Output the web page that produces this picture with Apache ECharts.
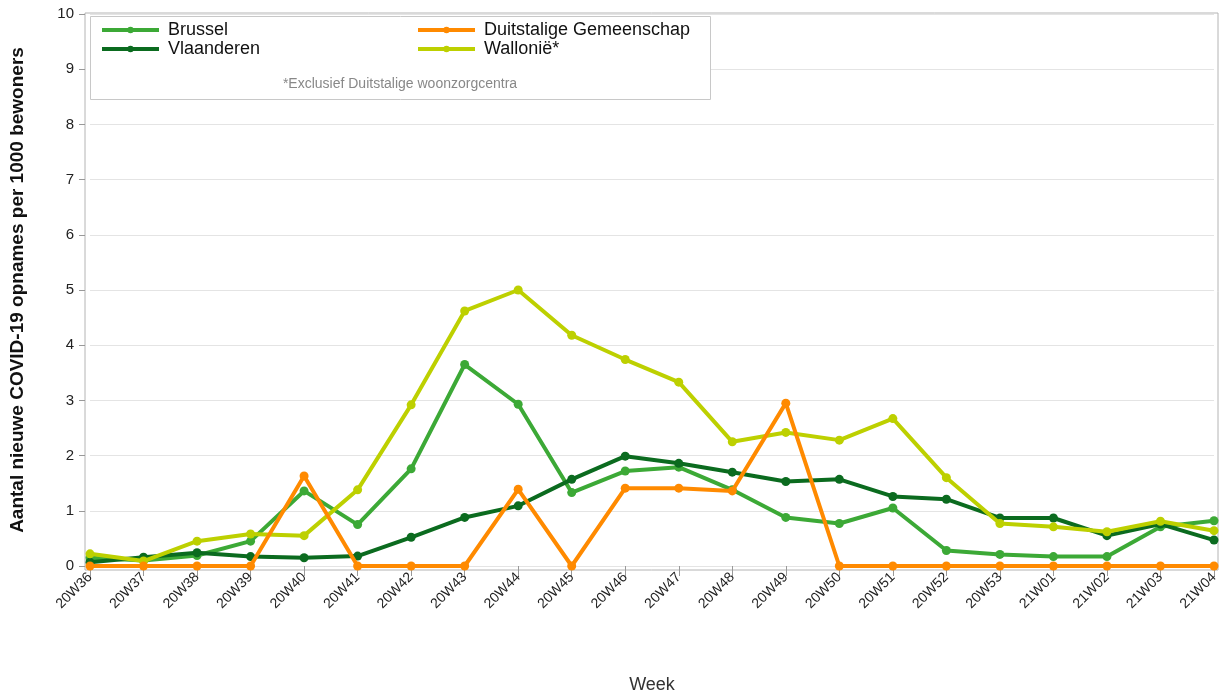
<!DOCTYPE html>
<html>
<head>
<meta charset="utf-8">
<script src="https://cdn.jsdelivr.net/npm/echarts@6/dist/echarts.min.js"></script>
<style>html,body{margin:0;padding:0;background:#fff}#c{width:1222px;height:696px}</style>
</head>
<body>
<div id="c"></div>
<script>
const weeks = ['20W36','20W37','20W38','20W39','20W40','20W41','20W42','20W43','20W44','20W45','20W46','20W47','20W48','20W49','20W50','20W51','20W52','20W53','21W01','21W02','21W03','21W04'];
const brussel = [0.15,0.10,0.19,0.45,1.36,0.75,1.76,3.65,2.93,1.33,1.72,1.79,1.38,0.88,0.77,1.05,0.28,0.21,0.17,0.17,0.71,0.82];
const vlaanderen = [0.07,0.16,0.24,0.17,0.15,0.18,0.52,0.88,1.09,1.57,1.99,1.86,1.70,1.53,1.57,1.26,1.21,0.87,0.87,0.55,0.76,0.47];
const duitstalig = [0,0,0,0,1.63,0,0,0,1.39,0,1.41,1.41,1.36,2.95,0,0,0,0,0,0,0,0];
const wallonie = [0.22,0.09,0.45,0.58,0.55,1.38,2.92,4.62,5.00,4.18,3.74,3.33,2.25,2.42,2.28,2.67,1.60,0.77,0.71,0.62,0.81,0.64];
const yTicks = [0,1,2,3,4,5,6,7,8,9,10];

const FONT = '"Liberation Sans", Arial, sans-serif';
const chart = echarts.init(document.getElementById('c'), null, {renderer: 'canvas'});

function mk(name, data, color, z) {
  return {
    name: name, type: 'line', data: data, xAxisIndex: 0, yAxisIndex: 0,
    symbol: 'circle', symbolSize: 9, z: z,
    lineStyle: {width: 4, color: color},
    itemStyle: {color: color},
    emphasis: {disabled: true}, animation: false
  };
}

const legendCommon = {
  orient: 'vertical', top: 21, z: 20,
  itemWidth: 57, itemHeight: 8, itemGap: 1, padding: 0,
  lineStyle: {width: 4},
  textStyle: {fontSize: 18, lineHeight: 14, color: '#111', fontFamily: FONT, padding: [0,0,0,4]},
  selectedMode: false
};

chart.setOption({
  animation: false,
  textStyle: {fontFamily: FONT},
  grid: [
    {left: 90, right: 8, top: 14, bottom: 130, outerBoundsMode: 'none', containLabel: false},
    {left: 85, right: 4, top: 13, bottom: 126, outerBoundsMode: 'none', containLabel: false, show: true, borderColor: '#b4b4b4', borderWidth: 1, backgroundColor: 'transparent', z: 0}
  ],
  xAxis: [
    {
      type: 'category', data: weeks, boundaryGap: false, gridIndex: 0,
      axisLine: {show: false},
      axisTick: {show: true, length: 10, lineStyle: {color: '#999'}},
      axisLabel: {rotate: 45, margin: 9, fontSize: 14, color: '#222', fontFamily: FONT},
      splitLine: {show: false},
      name: 'Week', nameLocation: 'middle', nameGap: 110,
      nameTextStyle: {fontSize: 18, color: '#333', fontFamily: FONT}
    },
    {type: 'value', gridIndex: 1, show: false, min: 0, max: 1}
  ],
  yAxis: [
    {
      type: 'value', min: 0, max: 10, interval: 1, gridIndex: 0, offset: 5,
      axisLine: {show: false},
      axisTick: {show: true, length: 6, lineStyle: {color: '#999'}},
      axisLabel: {margin: 11, fontSize: 15, color: '#222', fontFamily: FONT,
        customValues: yTicks},
      splitLine: {show: true, lineStyle: {color: '#e4e4e4', width: 1}},
      name: 'Aantal nieuwe COVID-19 opnames per 1000 bewoners',
      nameLocation: 'middle', nameGap: 58,
      nameTextStyle: {fontSize: 19, fontWeight: 'bold', color: '#111', fontFamily: FONT}
    },
    {type: 'value', gridIndex: 1, show: false, min: 0, max: 1}
  ],
  legend: [
    Object.assign({}, legendCommon, {data: ['Brussel', 'Vlaanderen'], left: 100}),
    Object.assign({}, legendCommon, {data: ['Duitstalige Gemeenschap', 'Wallonië*'], left: 416})
  ],
  graphic: [
    {type: 'rect', shape: {x: 90.5, y: 16.5, width: 620, height: 83}, style: {fill: '#fff', stroke: '#c8c8c8', lineWidth: 1}, z: 6},
    {type: 'text', x: 400, y: 84, style: {text: '*Exclusief Duitstalige woonzorgcentra', fill: '#888', font: '14px ' + FONT, textAlign: 'center', textVerticalAlign: 'middle'}, z: 7}
  ],
  series: [
    mk('Brussel', brussel, '#3ca936', 2),
    mk('Vlaanderen', vlaanderen, '#0b6b1f', 3),
    mk('Wallonië*', wallonie, '#bdd000', 4),
    mk('Duitstalige Gemeenschap', duitstalig, '#ff8a00', 5)
  ]
});
</script>
</body>
</html>
